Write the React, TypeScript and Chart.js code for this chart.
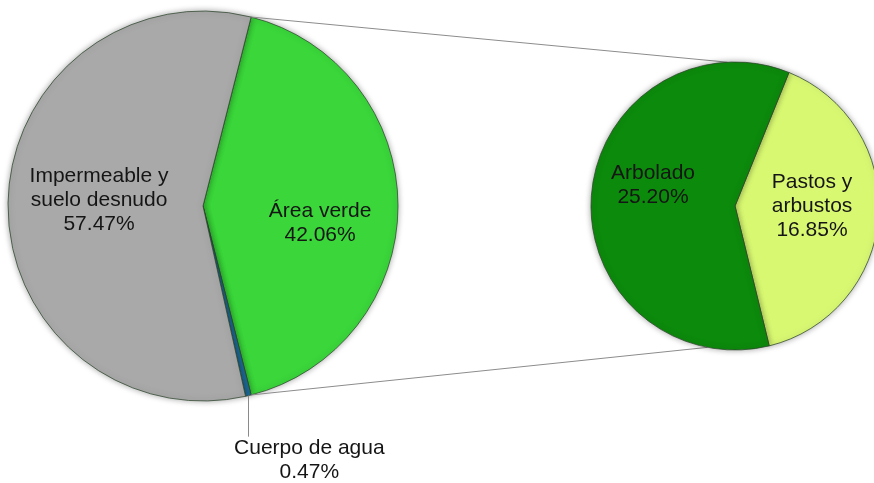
import { useEffect, useRef } from "react";
import { Chart, registerables } from "chart.js";

Chart.register(...registerables);

// ---- data ----
const primaryLabels = ["Área verde", "Cuerpo de agua", "Impermeable y suelo desnudo"];
const primaryValues = [42.06, 0.47, 57.47];
const primaryTextLines = [["Área verde"], ["Cuerpo de agua"], ["Impermeable y", "suelo desnudo"]];

const secondaryLabels = ["Pastos y arbustos", "Arbolado"];
const secondaryValues = [16.85, 25.2];
const secondaryTextLines = [["Pastos y", "arbustos"], ["Arbolado"]];

// ---- styles ----
const primaryColors = ["#3ad63a", "#1f6e9c", "#a9a9a9"];
const secondaryColors = ["#d9f872", "#0c8a0c"];
const FONT = '21px "Liberation Sans", Arial, sans-serif';
const LINE_H = 24;

type Layout = { type: "in"; dr: number; da: number } | { type: "leader"; len: number; dx: number };

const primaryLayout: Layout[] = [
  { type: "in", dr: 0.607, da: 8.5 },
  { type: "leader", len: 41, dx: 61 },
  { type: "in", dr: 0.534, da: 2.5 },
];
const secondaryLayout: Layout[] = [
  { type: "in", dr: 0.535, da: -4.1 },
  { type: "in", dr: 0.588, da: 10.3 },
];

function makeLabelPlugin(lines: string[][], values: number[], layout: Layout[]) {
  return {
    id: "sliceLabels",
    beforeDatasetsDraw(chart: any) {
      const ctx = chart.ctx;
      ctx.save();
      ctx.shadowColor = "rgba(0,0,0,0.35)";
      ctx.shadowBlur = 6;
    },
    afterDatasetsDraw(chart: any) {
      const ctx = chart.ctx;
      ctx.restore();
      const arcs = chart.getDatasetMeta(0).data;
      ctx.save();
      ctx.font = FONT;
      ctx.fillStyle = "#151515";
      ctx.textAlign = "center";
      ctx.textBaseline = "middle";
      arcs.forEach((arc: any, i: number) => {
        const L = layout[i];
        if (!L) return;
        const p = arc.getProps(["x", "y", "startAngle", "endAngle", "outerRadius"], true);
        const mid = (p.startAngle + p.endAngle) / 2;
        const text = [...lines[i], values[i].toFixed(2) + "%"];
        if (L.type === "in") {
          const a = mid + (L.da * Math.PI) / 180;
          const cx = p.x + Math.cos(a) * p.outerRadius * L.dr;
          const cy = p.y + Math.sin(a) * p.outerRadius * L.dr;
          const y0 = cy - ((text.length - 1) * LINE_H) / 2;
          text.forEach((t, k) => ctx.fillText(t, cx, y0 + k * LINE_H));
        } else {
          const ex = p.x + Math.cos(mid) * p.outerRadius;
          const ey = p.y + Math.sin(mid) * p.outerRadius;
          ctx.strokeStyle = "#8a8a8a";
          ctx.lineWidth = 1;
          ctx.beginPath();
          ctx.moveTo(Math.round(ex) + 0.5, ey);
          ctx.lineTo(Math.round(ex) + 0.5, ey + L.len);
          ctx.stroke();
          const cx = ex + L.dx;
          const y0 = ey + L.len + 12;
          text.forEach((t, k) => ctx.fillText(t, cx, y0 + k * LINE_H));
        }
      });
      ctx.restore();
    },
  };
}

function makeConnectorPlugin(getPrimary: () => Chart | null) {
  return {
    id: "connectors",
    beforeDatasetsDraw(chart: any) {
      const primary: any = getPrimary();
      if (!primary) return;
      const g = primary.getDatasetMeta(0).data[0].getProps(["x", "y", "startAngle", "endAngle", "outerRadius"], true);
      const s = chart.getDatasetMeta(0).data[0].getProps(["x", "y", "outerRadius"], true);
      const topA = (-93 * Math.PI) / 180;
      const botA = (101 * Math.PI) / 180;
      const ctx = chart.ctx;
      ctx.save();
      ctx.strokeStyle = "#8c8c8c";
      ctx.lineWidth = 1;
      ctx.beginPath();
      ctx.moveTo(g.x + Math.cos(g.startAngle) * g.outerRadius, g.y + Math.sin(g.startAngle) * g.outerRadius);
      ctx.lineTo(s.x + Math.cos(topA) * s.outerRadius, s.y + Math.sin(topA) * s.outerRadius);
      ctx.moveTo(g.x + Math.cos(g.endAngle) * g.outerRadius, g.y + Math.sin(g.endAngle) * g.outerRadius);
      ctx.lineTo(s.x + Math.cos(botA) * s.outerRadius, s.y + Math.sin(botA) * s.outerRadius);
      ctx.stroke();
      ctx.restore();
    },
  };
}

export default function App() {
  const ref1 = useRef<HTMLCanvasElement>(null);
  const ref2 = useRef<HTMLCanvasElement>(null);

  useEffect(() => {
    document.body.style.margin = "0";
    const total1 = primaryValues.reduce((a, b) => a + b, 0);
    const rot1 = 90 - (primaryValues[0] / total1) * 180;

    const c1 = new Chart(ref1.current!, {
      type: "pie",
      data: {
        labels: primaryLabels,
        datasets: [
          {
            data: primaryValues,
            backgroundColor: primaryColors,
            borderColor: "rgba(45,70,45,0.75)",
            borderWidth: 1,
          },
        ],
      },
      options: {
        responsive: false,
        animation: false,
        events: [],
        rotation: rot1,
        radius: 195,
        layout: { padding: { left: 0, top: 0, right: 468, bottom: 71 } },
        plugins: { legend: { display: false }, tooltip: { enabled: false } },
      } as any,
      plugins: [makeLabelPlugin(primaryTextLines, primaryValues, primaryLayout)],
    });

    const c2 = new Chart(ref2.current!, {
      type: "pie",
      data: {
        labels: secondaryLabels,
        datasets: [
          {
            data: secondaryValues,
            backgroundColor: secondaryColors,
            borderColor: "rgba(45,70,45,0.75)",
            borderWidth: 1,
          },
        ],
      },
      options: {
        responsive: false,
        animation: false,
        events: [],
        rotation: 22,
        radius: 144,
        layout: { padding: { left: 596, top: 0, right: 0, bottom: 71 } },
        plugins: { legend: { display: false }, tooltip: { enabled: false } },
      } as any,
      plugins: [makeConnectorPlugin(() => c1), makeLabelPlugin(secondaryTextLines, secondaryValues, secondaryLayout)],
    });

    return () => {
      c2.destroy();
      c1.destroy();
    };
  }, []);

  return (
    <div style={{ position: "relative", width: 874, height: 483, background: "#fff" }}>
      <canvas ref={ref1} width={874} height={483} style={{ position: "absolute", left: 0, top: 0 }} />
      <canvas ref={ref2} width={874} height={483} style={{ position: "absolute", left: 0, top: 0 }} />
    </div>
  );
}
